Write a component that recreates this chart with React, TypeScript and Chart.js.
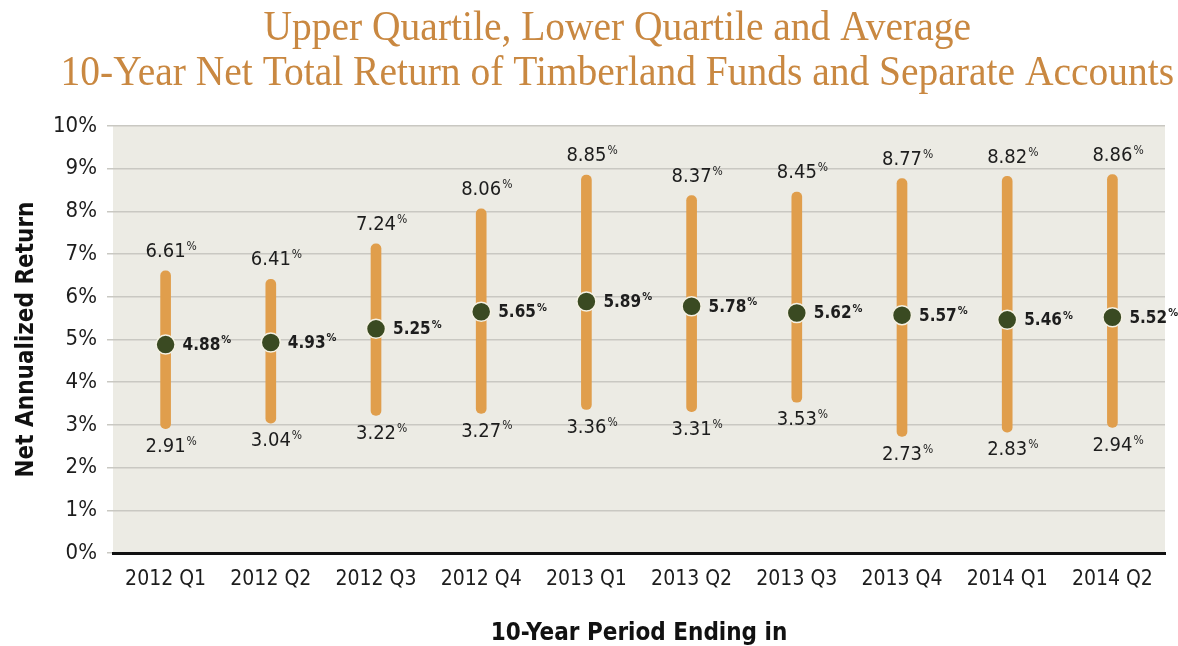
import React, { useEffect, useRef } from "react";
import { Chart, registerables } from "chart.js";

Chart.register(...registerables);

const categories = ["2012 Q1", "2012 Q2", "2012 Q3", "2012 Q4", "2013 Q1", "2013 Q2", "2013 Q3", "2013 Q4", "2014 Q1", "2014 Q2"];
const upperQuartile = [6.61, 6.41, 7.24, 8.06, 8.85, 8.37, 8.45, 8.77, 8.82, 8.86];
const lowerQuartile = [2.91, 3.04, 3.22, 3.27, 3.36, 3.31, 3.53, 2.73, 2.83, 2.94];
const averageReturn = [4.88, 4.93, 5.25, 5.65, 5.89, 5.78, 5.62, 5.57, 5.46, 5.52];
const yAxisMin = 0;
const yAxisMax = 10;
const yAxisStep = 1;

const titleLines = [
  "Upper Quartile, Lower Quartile and Average",
  "10-Year Net Total Return of Timberland Funds and Separate Accounts",
];
const yAxisTitle = "Net Annualized Return";
const xAxisTitle = "10-Year Period Ending in";

const NARROW = "'Liberation Sans Narrow', 'DejaVu Sans Condensed', 'Roboto', sans-serif";
const SERIF = "'Liberation Serif', 'DejaVu Serif', serif";
const ORANGE = "#E09E4C";
const DOT = "#3A4A22";
const PLOT_BG = "#ECEBE4";
const TITLE_COLOR = "#C98841";
const TEXT = "#1D1D1D";

function drawSup(
  ctx: CanvasRenderingContext2D,
  num: string,
  x: number,
  y: number,
  align: "center" | "left",
  font: string,
  supFont: string
) {
  ctx.font = font;
  ctx.textBaseline = "middle";
  ctx.textAlign = "left";
  const w = ctx.measureText(num).width;
  const sx = align === "center" ? x - w / 2 : x;
  ctx.fillText(num, sx, y);
  ctx.font = supFont;
  ctx.fillText("%", sx + w + 1, y - 5);
}

const backgroundPlugin = {
  id: "plotBackground",
  beforeDraw(chart: any) {
    const { ctx, chartArea: a } = chart;
    ctx.save();
    ctx.fillStyle = PLOT_BG;
    ctx.fillRect(a.left, a.top, a.right - a.left, a.bottom - a.top);
    ctx.restore();
  },
};

const titlePlugin = {
  id: "condensedTitle",
  afterDraw(chart: any) {
    const { ctx } = chart;
    ctx.save();
    ctx.fillStyle = TITLE_COLOR;
    ctx.font = `42px ${SERIF}`;
    ctx.textAlign = "center";
    ctx.textBaseline = "alphabetic";
    const cx = chart.width * 0.524;
    const baselines = [40, 85];
    titleLines.forEach((line, i) => {
      ctx.save();
      ctx.translate(cx, baselines[i]);
      ctx.scale(0.94, 1);
      ctx.fillText(line, 0, 0);
      ctx.restore();
    });
    ctx.restore();
  },
};

const valueLabelPlugin = {
  id: "valueLabels",
  afterDatasetsDraw(chart: any) {
    const { ctx } = chart;
    const xs = chart.scales.x;
    const ys = chart.scales.y;
    ctx.save();
    ctx.fillStyle = TEXT;
    categories.forEach((_, i) => {
      const px = xs.getPixelForValue(i);
      const pu = ys.getPixelForValue(upperQuartile[i]);
      const pl = ys.getPixelForValue(lowerQuartile[i]);
      const pm = ys.getPixelForValue(averageReturn[i]);
      drawSup(ctx, upperQuartile[i].toFixed(2), px, pu - 19, "center", `20px ${NARROW}`, `12px ${NARROW}`);
      drawSup(ctx, lowerQuartile[i].toFixed(2), px, pl + 18, "center", `20px ${NARROW}`, `12px ${NARROW}`);
      drawSup(ctx, averageReturn[i].toFixed(2), px + 17, pm + 1, "left", `bold 17px ${NARROW}`, `bold 11px ${NARROW}`);
    });
    ctx.restore();
  },
};

export default function App() {
  const canvasRef = useRef<HTMLCanvasElement | null>(null);

  useEffect(() => {
    document.body.style.margin = "0";
    document.body.style.overflow = "hidden";
    const canvas = canvasRef.current;
    if (!canvas) return;
    const chart = new Chart(canvas, {
      type: "bar",
      data: {
        labels: categories,
        datasets: [
          {
            type: "line",
            label: "Average",
            data: averageReturn,
            showLine: false,
            pointRadius: 9.5,
            pointBackgroundColor: DOT,
            pointBorderColor: "#F4F1E4",
            pointBorderWidth: 1.5,
            order: 1,
          } as any,
          {
            type: "bar",
            label: "Quartile range",
            data: lowerQuartile.map((l, i) => [l, upperQuartile[i]]),
            backgroundColor: ORANGE,
            borderRadius: 6,
            borderSkipped: false,
            barThickness: 10,
            order: 2,
          } as any,
        ],
      },
      options: {
        animation: false,
        responsive: false,
        maintainAspectRatio: false,
        layout: { padding: { top: 126, left: 0, right: 13, bottom: 0 } },
        plugins: {
          legend: { display: false },
          tooltip: { enabled: false },
          title: { display: false },
        },
        scales: {
          x: {
            offset: true,
            grid: { display: false, drawTicks: false },
            border: { display: true, color: "#111111", width: 3 },
            ticks: {
              color: TEXT,
              padding: 14,
              font: { family: NARROW, size: 21 },
            },
            title: {
              display: true,
              text: xAxisTitle,
              color: "#111111",
              font: { family: NARROW, size: 24, weight: "bold" },
              padding: { top: 0, bottom: -2 },
            },
            afterFit(scale: any) {
              scale.height = 93;
            },
          },
          y: {
            min: yAxisMin,
            max: yAxisMax,
            ticks: {
              stepSize: yAxisStep,
              color: TEXT,
              padding: 10,
              font: { family: NARROW, size: 22 },
              callback: (v: any) => `${v}%`,
            },
            grid: {
              color: "#C9C8C2",
              lineWidth: 1.5,
              tickLength: 6,
            },
            border: { display: false },
            title: {
              display: true,
              text: yAxisTitle,
              color: "#111111",
              font: { family: NARROW, size: 24, weight: "bold" },
              padding: { top: 12, bottom: 0 },
            },
            afterFit(scale: any) {
              scale.width = 113;
            },
          },
        },
      },
      plugins: [backgroundPlugin, titlePlugin, valueLabelPlugin],
    });
    return () => chart.destroy();
  }, []);

  return (
    <div style={{ width: 1178, height: 646 }}>
      <canvas ref={canvasRef} width={1178} height={646} style={{ display: "block" }} />
    </div>
  );
}
